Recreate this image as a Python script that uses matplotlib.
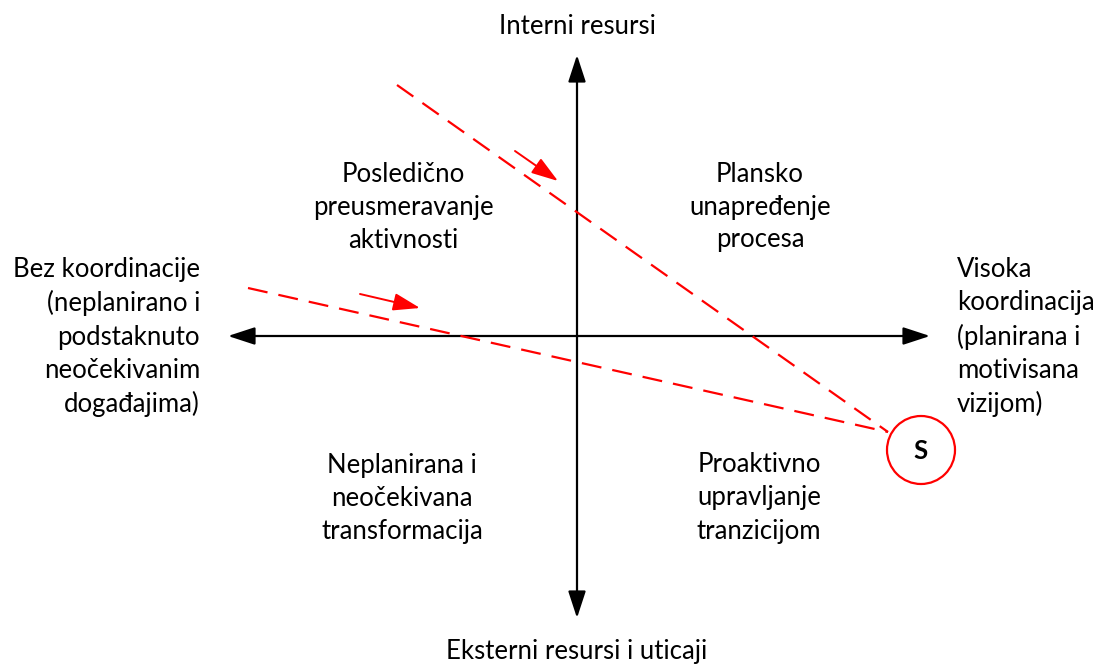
import matplotlib.pyplot as plt
from matplotlib.patches import Circle, FancyArrowPatch

plt.rcParams['font.family'] = ['Lato', 'DejaVu Sans']

axis_top = "Interni resursi"
axis_bottom = "Eksterni resursi i uticaji"
axis_left = "Bez koordinacije\n(neplanirano i\npodstaknuto\nneočekivanim\ndogađajima)"
axis_right = "Visoka\nkoordinacija\n(planirana i\nmotivisana\nvizijom)"
quadrants = [
    "Posledično\npreusmeravanje\naktivnosti",
    "Plansko\nunapređenje\nprocesa",
    "Neplanirana i\nneočekivana\ntransformacija",
    "Proaktivno\nupravljanje\ntranzicijom",
]
marker_label = "S"

W, H = 1101, 664
fig = plt.figure(figsize=(W / 100, H / 100), dpi=100)
ax = fig.add_axes([0, 0, 1, 1])
ax.set_xlim(0, W)
ax.set_ylim(H, 0)
ax.axis('off')

cx, cy = 577, 336
fs = 18.5
ls = 1.4

# main axes with arrow heads on both ends
for p0, p1 in [((cx, 618), (cx, 55)), ((228, cy), (930, cy))]:
    a = FancyArrowPatch(p0, p1, arrowstyle='<|-|>,head_length=5.5,head_width=1.8',
                        color='black', lw=1.6, shrinkA=0, shrinkB=0, mutation_scale=3)
    ax.add_patch(a)

# red dashed lines towards S
sx, sy = 888, 432
ax.plot([397, sx], [85, sy], color='#ff0000', lw=1.6, dashes=(9, 5))
ax.plot([248, sx], [288, sy], color='#ff0000', lw=1.6, dashes=(9, 5))

# small red direction arrows
for p0, p1 in [((515, 151), (558, 181)), ((360, 294), (420, 308))]:
    a = FancyArrowPatch(p0, p1, arrowstyle='-|>,head_length=5.5,head_width=1.8',
                        color='#ff0000', lw=1.4, shrinkA=0, shrinkB=0, mutation_scale=3)
    ax.add_patch(a)

ax.add_patch(Circle((921, 450), 34, fill=False, ec='#ff0000', lw=1.6))
ax.text(921, 451, marker_label, ha='center', va='center', fontsize=fs,
        fontweight='bold')

ax.text(cx, 27, axis_top, ha='center', va='center', fontsize=fs)
ax.text(cx, 651, axis_bottom, ha='center', va='center', fontsize=fs)
ax.text(200, 337, axis_left, ha='right', va='center', fontsize=fs,
        multialignment='right', linespacing=ls)
ax.text(957, 337, axis_right, ha='left', va='center', fontsize=fs,
        multialignment='left', linespacing=ls)

qpos = [(403, 207), (760, 207), (402, 498), (759, 498)]
for (qx, qy), q in zip(qpos, quadrants):
    ax.text(qx, qy, q, ha='center', va='center', fontsize=fs,
            multialignment='center', linespacing=ls)

fig.savefig('out.png', dpi=100)
